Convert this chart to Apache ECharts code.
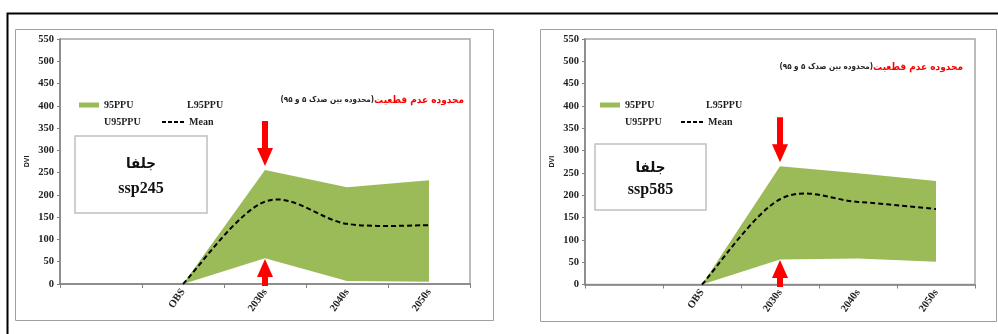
<!DOCTYPE html>
<html>
<head>
<meta charset="utf-8">
<script src="https://cdn.jsdelivr.net/npm/echarts@6/dist/echarts.min.js"></script>
<style>html,body{margin:0;padding:0;background:#fff}#c{width:998px;height:334px}</style>
</head>
<body>
<div id="c"></div>
<script>
// ---- data ----
const categories = ['', 'OBS', '2030s', '2040s', '2050s'];
const yMin = 0, yMax = 550, yStep = 50;

const ssp245Upper = [null, 0, 256, 217, 233];
const ssp245Lower = [null, 0, 58, 7, 5];
const ssp245Mean  = [null, 0, 185, 135, 132];

const ssp585Upper = [null, 0, 265, 249, 232];
const ssp585Lower = [null, 0, 56, 58, 51];
const ssp585Mean  = [null, 0, 191, 185, 169];

const stationName = 'جلفا';
const scenarioNames = ['ssp245', 'ssp585'];
const titleRed = 'محدوده عدم قطعیت';
const titleBlack = '\u202B(محدوده بین صدک ۵ و ۹۵)\u202C';

// ---- styles ----
const GREEN = '#9BBB59';
const SERIF = '"Liberation Serif", "Times New Roman", serif';
const AR = '"DejaVu Sans Condensed", "DejaVu Sans", sans-serif';

const downArrow = 'path://M5,0 L11,0 L11,27 L16,27 L8,45 L0,27 L5,27 Z';
const upArrow = 'path://M8,0 L16,18 L11,18 L11,27 L5,27 L5,18 L0,18 Z';
const dashIcon = 'path://M0,0 L4,0 L4,2 L0,2 Z M6,0 L10,0 L10,2 L6,2 Z M12,0 L16,0 L16,2 L12,2 Z M18,0 L22,0 L22,2 L18,2 Z';

function band(upper, lower) {
  return upper.map((u, i) => (u == null || lower[i] == null) ? null : u - lower[i]);
}

const grids = [
  {left: 60, top: 39, width: 410, height: 245},
  {left: 585, top: 39, width: 390, height: 245.5}
];

function xAxisFor(i) {
  return {
    type: 'category', gridIndex: i, data: categories, boundaryGap: true,
    axisLine: {lineStyle: {color: '#808080', width: 1.5}},
    axisTick: {show: true, alignWithLabel: false, interval: 0, length: 4, inside: false, lineStyle: {color: '#808080'}},
    axisLabel: {interval: 0, rotate: 55, margin: 6, fontFamily: SERIF, fontWeight: 'bold', fontSize: 10.5, color: '#222'},
    splitLine: {show: false}
  };
}
function yAxisFor(i) {
  return {
    type: 'value', gridIndex: i, min: yMin, max: yMax, interval: yStep,
    name: 'DVI', nameLocation: 'middle', nameRotate: 90, nameGap: 29,
    nameTextStyle: {fontFamily: 'Arial, sans-serif', fontSize: 7, fontWeight: 'bold', color: '#222'},
    axisLine: {show: true, lineStyle: {color: '#808080', width: 1.5}},
    axisTick: {show: true, length: 3, lineStyle: {color: '#808080'}},
    axisLabel: {margin: 6, fontFamily: SERIF, fontWeight: 'bold', fontSize: 10.5, color: '#222'},
    splitLine: {show: false}
  };
}

// Excel-like smoothed line (Catmull-Rom style Bezier) drawn via the axis scales
function meanRenderer(values) {
  const first = values.findIndex(v => v != null);
  return function (params, api) {
    if (params.dataIndex !== first) return null;
    const pts = [];
    values.forEach((v, i) => { if (v != null) pts.push(api.coord([i, v])); });
    let d = 'M' + pts[0][0] + ',' + pts[0][1];
    for (let k = 0; k < pts.length - 1; k++) {
      const p0 = pts[Math.max(k - 1, 0)], p1 = pts[k], p2 = pts[k + 1], p3 = pts[Math.min(k + 2, pts.length - 1)];
      const c1 = [p1[0] + (p2[0] - p0[0]) / 6, p1[1] + (p2[1] - p0[1]) / 6];
      const c2 = [p2[0] - (p3[0] - p1[0]) / 6, p2[1] - (p3[1] - p1[1]) / 6];
      d += ' C' + c1[0] + ',' + c1[1] + ' ' + c2[0] + ',' + c2[1] + ' ' + p2[0] + ',' + p2[1];
    }
    return {type: 'path', shape: {pathData: d}, style: {stroke: '#000', lineWidth: 2, lineDash: [5, 3], fill: null}};
  };
}

function seriesFor(i, upper, lower, mean, arrows) {
  return [
    {name: 'L95PPU', type: 'line', xAxisIndex: i, yAxisIndex: i, data: lower, stack: 'b' + i,
     symbol: 'none', lineStyle: {width: 0, opacity: 0}, itemStyle: {color: 'rgba(0,0,0,0)'}, silent: true},
    {name: '95PPU', type: 'line', xAxisIndex: i, yAxisIndex: i, data: band(upper, lower), stack: 'b' + i,
     symbol: 'none', lineStyle: {width: 0, opacity: 0}, itemStyle: {color: GREEN},
     areaStyle: {color: GREEN, opacity: 1}, silent: true,
     markPoint: {
       silent: true, label: {show: false}, itemStyle: {color: '#FF0000'}, symbolKeepAspect: false,
       data: [
         {coord: ['2030s', arrows[0]], symbol: downArrow, symbolSize: [16, 45], symbolOffset: [0, '-50%']},
         {coord: ['2030s', arrows[1]], symbol: upArrow, symbolSize: [16, 27], symbolOffset: [0, '50%']}
       ]
     }},
    {name: 'U95PPU', type: 'line', xAxisIndex: i, yAxisIndex: i, data: upper,
     symbol: 'none', lineStyle: {width: 0, opacity: 0}, itemStyle: {color: 'rgba(0,0,0,0)'}, silent: true},
    {name: 'Mean', type: 'custom', xAxisIndex: i, yAxisIndex: i, data: mean, z: 5, silent: true,
     itemStyle: {color: '#000'}, renderItem: meanRenderer(mean)}
  ];
}

const legendText = {fontFamily: SERIF, fontWeight: 'bold', fontSize: 10, color: '#222'};
function legendsFor(x1, x2, y1, y2) {
  const base = {orient: 'horizontal', padding: 0, itemGap: 0, textStyle: legendText, selectedMode: false};
  return [
    Object.assign({}, base, {left: x1, top: y1, itemWidth: 20, itemHeight: 5, data: [{name: '95PPU', icon: 'rect'}]}),
    Object.assign({}, base, {left: x2, top: y1, itemWidth: 20, itemHeight: 5, data: [{name: 'L95PPU', icon: 'rect', itemStyle: {opacity: 0}}]}),
    Object.assign({}, base, {left: x1, top: y2, itemWidth: 20, itemHeight: 5, data: [{name: 'U95PPU', icon: 'rect', itemStyle: {opacity: 0}}]}),
    Object.assign({}, base, {left: x2, top: y2, itemWidth: 22, itemHeight: 2, data: [{name: 'Mean', icon: dashIcon}]})
  ];
}

function titleFor(right, top) {
  return {
    right: right, top: top, padding: 0,
    text: '{k|' + titleBlack + '}{r|' + titleRed + '}',
    textStyle: {
      rich: {
        k: {fontFamily: AR, fontSize: 8, color: '#222'},
        r: {fontFamily: AR, fontSize: 10, fontWeight: 'bold', color: '#FF0000'}
      }
    }
  };
}

function boxFor(x, y, w, h, scen) {
  return [
    {type: 'rect', shape: {x: x, y: y, width: w, height: h}, style: {fill: '#fff', stroke: '#c0c0c0', lineWidth: 1.5}, z: 10},
    {type: 'text', x: x + w / 2, y: y + h * 0.36, style: {text: stationName, font: 'bold 15px ' + AR, fill: '#111', align: 'center', verticalAlign: 'middle'}, z: 11},
    {type: 'text', x: x + w / 2, y: y + h * 0.69, style: {text: scen, font: 'bold 16px ' + SERIF, fill: '#111', align: 'center', verticalAlign: 'middle'}, z: 11}
  ];
}

const option = {
  animation: false,
  grid: grids.map(g => Object.assign({show: true, borderColor: '#a6a6a6', borderWidth: 1.5, backgroundColor: 'transparent'}, g)),
  xAxis: [xAxisFor(0), xAxisFor(1)],
  yAxis: [yAxisFor(0), yAxisFor(1)],
  title: [titleFor(534, 95), titleFor(35, 62)],
  legend: legendsFor(79, 162, 100, 117).concat(legendsFor(600, 681, 100, 117)),
  series: seriesFor(0, ssp245Upper, ssp245Lower, ssp245Mean, [265, 56])
    .concat(seriesFor(1, ssp585Upper, ssp585Lower, ssp585Mean, [274, 55])),
  graphic: [
    {type: 'polyline', shape: {points: [[7.5, 334], [7.5, 13.5], [998, 13.5]]}, style: {stroke: '#000', lineWidth: 2, fill: null}, z: 0},
    {type: 'rect', shape: {x: 15.5, y: 29.5, width: 478, height: 291}, style: {fill: null, stroke: '#a0a0a0', lineWidth: 1}, z: 0},
    {type: 'rect', shape: {x: 540.5, y: 29.5, width: 456, height: 292}, style: {fill: null, stroke: '#a0a0a0', lineWidth: 1}, z: 0}
  ].concat(boxFor(75, 136, 132, 77, scenarioNames[0]))
   .concat(boxFor(595, 144, 111, 66, scenarioNames[1]))
};

const chart = echarts.init(document.getElementById('c'), null, {renderer: 'canvas'});
chart.setOption(option);
</script>
</body>
</html>
